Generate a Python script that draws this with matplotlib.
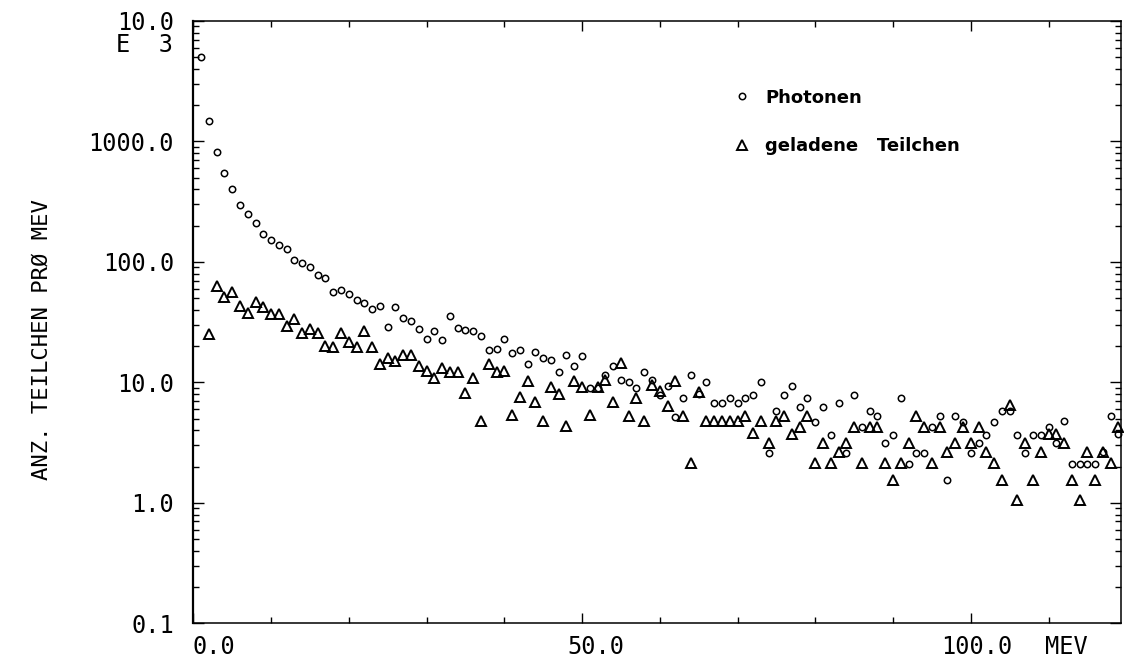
import matplotlib.pyplot as plt
from matplotlib.ticker import FixedLocator, LogLocator, MultipleLocator, NullFormatter

# Photonen: one point per 1 MeV bin
photon_mev = list(range(1, 120))
photon_counts = [
    5000, 1466, 815, 552, 402, 298, 252, 210, 172, 152,
    138, 129, 103, 98, 90, 77.6, 73.4, 55.9, 59, 54,
    48.2, 45.3, 40.8, 42.7, 29, 42, 34, 32.3, 27.7, 23,
    26.8, 22.6, 35.3, 28.4, 27.3, 26.8, 24.4, 18.7, 19.1, 22.9,
    17.5, 18.6, 14.2, 17.9, 15.8, 15.2, 12.1, 16.9, 13.6, 16.4,
    8.93, 8.93, 11.5, 13.6, 10.5, 10.1, 8.93, 12.1, 10.5, 7.9,
    9.4, 5.2, 7.38, 11.5, 8.0, 10.1, 6.75, 6.75, 7.38, 6.75,
    7.38, 7.81, 10.0, 2.6, 5.75, 7.81, 9.4, 6.28, 7.38, 4.67,
    6.28, 3.68, 6.75, 2.59, 7.81, 4.24, 5.79, 5.23, 3.14, 3.68,
    7.38, 2.09, 2.6, 2.6, 4.24, 5.23, 1.55, 5.23, 4.67, 2.6,
    3.14, 3.68, 4.67, 5.79, 5.79, 3.68, 2.6, 3.68, 3.68, 4.24,
    3.14, 4.75, 2.1, 2.1, 2.1, 2.1, 2.66, 5.3, 3.73,
]

# geladene Teilchen: starts at the second bin
charged_mev = list(range(2, 120))
charged_counts = [
    25.2, 63.4, 50.8, 55.8, 42.7, 37.4, 46.7, 41.9, 36.6,
    36.6, 29.5, 33.5, 25.7, 27.7, 25.7, 20.1, 19.5, 25.7, 21.7,
    19.5, 26.8, 19.8, 14.2, 15.8, 15.1, 16.9, 16.9, 13.6, 12.4,
    10.9, 13.2, 12.1, 12.1, 8.16, 10.9, 4.81, 14.2, 12.1, 12.4,
    5.39, 7.52, 10.3, 6.92, 4.81, 9.08, 7.96, 4.32, 10.3, 9.08,
    5.36, 9.08, 10.5, 6.92, 14.4, 5.3, 7.46, 4.81, 9.5, 8.5,
    6.41, 10.3, 5.3, 2.14, 8.36, 4.75, 4.75, 4.75, 4.75, 4.75,
    5.3, 3.78, 4.75, 3.14, 4.75, 5.3, 3.73, 4.29, 5.3, 2.13,
    3.14, 2.13, 2.63, 3.14, 4.24, 2.13, 4.24, 4.24, 2.13, 1.56,
    2.13, 3.14, 5.3, 4.24, 2.13, 4.24, 2.63, 3.14, 4.24, 3.14,
    4.24, 2.63, 2.13, 1.56, 6.52, 1.06, 3.14, 1.56, 2.63, 3.73,
    3.73, 3.14, 1.56, 1.06, 2.63, 1.56, 2.66, 2.13, 4.29,
]

y_ticks = [0.1, 1, 10, 100, 1000, 10000]
y_labels = ["0.1", "1.0", "10.0", "100.0", "1000.0", "10.0"]
x_labels = ["0.0", "50.0", "100.0", "MEV"]
x_label_pos = [2.66, 51.8, 100.76, 112.3]

mono = "DejaVu Sans Mono"

fig = plt.figure(figsize=(11.24, 6.64), dpi=100)
ax = fig.add_axes([0.172, 0.0613, 0.8255, 0.9071])

ax.plot(photon_mev, photon_counts, "o", ms=4.6, mfc="none", mec="black",
        mew=1.1, label="Photonen", clip_on=False)
ax.plot(charged_mev, charged_counts, "^", ms=7.2, mfc="none", mec="black",
        mew=1.4, label="geladene   Teilchen", clip_on=False)

ax.set_yscale("log")
ax.set_ylim(0.1, 10000)
ax.set_xlim(0, 119.35)

ax.yaxis.set_major_locator(FixedLocator(y_ticks))
ax.yaxis.set_minor_locator(LogLocator(base=10, subs=range(2, 10)))
ax.yaxis.set_minor_formatter(NullFormatter())
ax.set_yticklabels(y_labels, fontfamily=mono, fontsize=17)

ax.xaxis.set_major_locator(MultipleLocator(50))
ax.xaxis.set_minor_locator(MultipleLocator(10))
ax.set_xticklabels([])

ax.tick_params(which="both", direction="in", top=True, right=True,
               color="black", width=1.0)
ax.tick_params(axis="y", which="major", length=8, pad=14)
ax.tick_params(axis="y", which="minor", length=4)
ax.tick_params(axis="x", which="major", length=7)
ax.tick_params(axis="x", which="minor", length=4)

for side in ["top", "bottom", "right"]:
    ax.spines[side].set_linewidth(1.1)
ax.spines["left"].set_linewidth(1.6)

# exponent under the top label
ax.text(-0.0216, 6300, "E  3", transform=ax.get_yaxis_transform(),
        ha="right", va="center", fontfamily=mono, fontsize=17)

for lab, pos in zip(x_labels, x_label_pos):
    ax.text(pos, -0.0194, lab, transform=ax.get_xaxis_transform(),
            ha="center", va="top", fontfamily=mono, fontsize=17)

fig.text(42 / 1124, 1 - 340 / 664, "ANZ. TEILCHEN PRØ MEV", rotation=90,
         ha="center", va="center", fontfamily=mono, fontsize=16)

ax.legend(loc="center left", bbox_to_anchor=(0.652, 0.8163),
          bbox_transform=fig.transFigure, frameon=False, borderpad=0,
          borderaxespad=0, handlelength=1.0, handletextpad=0.8,
          labelspacing=1.7, numpoints=1,
          prop={"family": "DejaVu Sans", "weight": "bold", "size": 13})

fig.savefig("out.png", dpi=100)
